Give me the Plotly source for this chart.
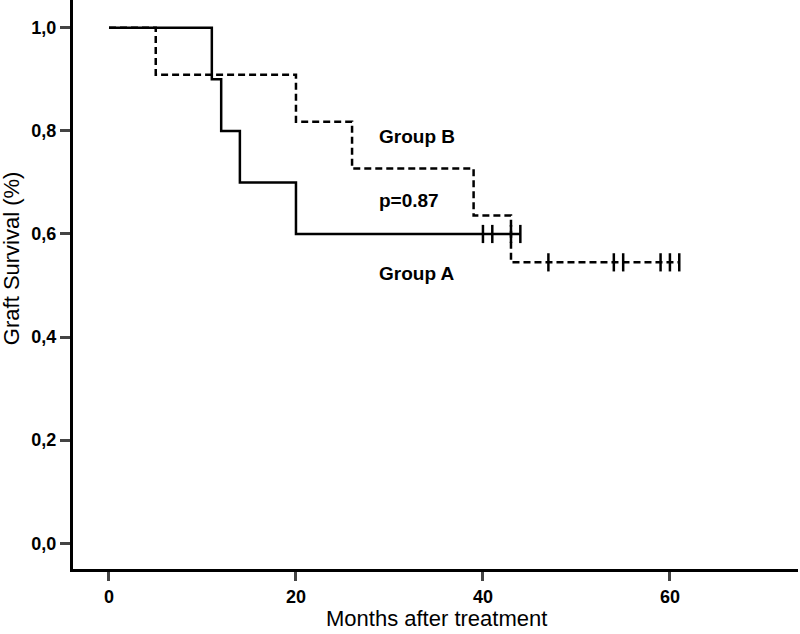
import plotly.graph_objects as go
import bisect

# Kaplan-Meier step data (months, survival proportion)
group_a_times = [0, 11, 12, 14, 20, 44]
group_a_surv = [1.0, 0.9, 0.8, 0.7, 0.6, 0.6]
group_a_censor = [40, 41, 43, 44]

group_b_times = [0, 5, 20, 26, 39, 43, 61]
group_b_surv = [1.0, 0.909, 0.818, 0.727, 0.636, 0.545, 0.545]
group_b_censor = [47, 54, 55, 59, 60, 61]

y_tickvals = [0.0, 0.2, 0.4, 0.6, 0.8, 1.0]
y_ticktext = ["0,0", "0,2", "0,4", "0,6", "0,8", "1,0"]
x_tickvals = [0, 20, 40, 60]


def surv_at(times, surv, t):
    i = bisect.bisect_right(times, t) - 1
    return surv[max(i, 0)]


fig = go.Figure()

fig.add_trace(go.Scatter(
    x=group_b_times, y=group_b_surv, mode="lines", line_shape="hv",
    line=dict(color="black", width=2.5, dash="7px,4px"), showlegend=False))
fig.add_trace(go.Scatter(
    x=group_a_times, y=group_a_surv, mode="lines", line_shape="hv",
    line=dict(color="black", width=2.5), showlegend=False))

censor_marker = dict(symbol="line-ns", size=13, line=dict(color="black", width=2.5))
fig.add_trace(go.Scatter(
    x=group_a_censor, y=[surv_at(group_a_times, group_a_surv, t) for t in group_a_censor],
    mode="markers", marker=censor_marker, showlegend=False))
fig.add_trace(go.Scatter(
    x=group_b_censor, y=[surv_at(group_b_times, group_b_surv, t) for t in group_b_censor],
    mode="markers", marker=censor_marker, showlegend=False))

ann_font = dict(family="Liberation Sans, Arial, sans-serif", size=19, color="black")
fig.add_annotation(x=28.7, y=0.79, text="<b>Group B</b>", showarrow=False, xanchor="left", font=ann_font)
fig.add_annotation(x=28.7, y=0.665, text="<b>p=0.87</b>", showarrow=False, xanchor="left", font=ann_font)
fig.add_annotation(x=28.7, y=0.524, text="<b>Group A</b>", showarrow=False, xanchor="left", font=ann_font)

title_font = dict(family="Liberation Sans, Arial, sans-serif", size=22, color="black")
fig.add_annotation(xref="paper", yref="paper", x=0.502, y=-0.087, text="Months after treatment",
                   showarrow=False, xanchor="center", yanchor="middle", font=title_font)
fig.add_annotation(xref="paper", yref="paper", x=-0.085, y=0.547, text="Graft Survival (%)",
                   showarrow=False, xanchor="center", yanchor="middle", textangle=-90, font=title_font)

tick_font = dict(family="Liberation Sans Narrow, Arial Narrow, Liberation Sans", size=18, color="black", weight="bold")
fig.update_layout(
    width=800, height=634,
    margin=dict(l=73, r=2, t=0, b=65),
    plot_bgcolor="white", paper_bgcolor="white",
    xaxis=dict(range=[-3.85, 73.7], tickvals=x_tickvals, ticks="outside", ticklen=9, tickwidth=2.5,
               showline=True, linewidth=3, linecolor="black", showgrid=False, zeroline=False,
               tickfont=tick_font, automargin=False),
    yaxis=dict(range=[-0.05, 1.054], tickvals=y_tickvals, ticktext=y_ticktext, ticks="outside", ticklen=10, tickwidth=2.5,
               showline=True, linewidth=3, linecolor="black", showgrid=False, zeroline=False,
               tickfont=tick_font, automargin=False),
)

fig.write_html("out.html", config={"displayModeBar": False},
               post_script="document.body.style.margin='0';")
